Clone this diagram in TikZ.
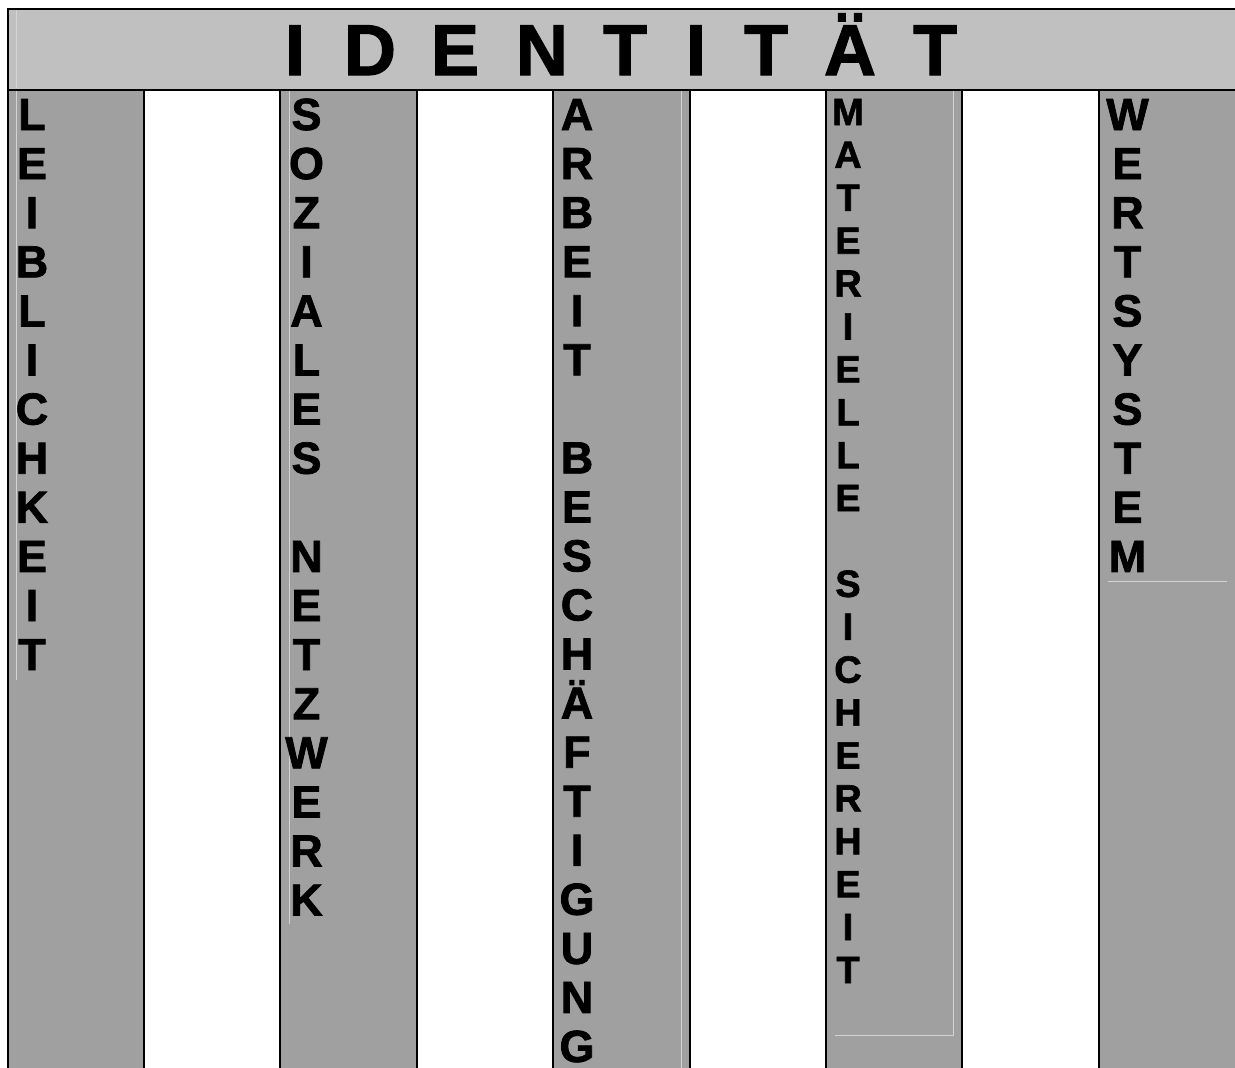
\documentclass[tikz,border=0pt]{standalone}
\usepackage{fontspec}
\setmainfont{Liberation Sans}
\newfontfamily\arialbold{Liberation Sans Bold}[FakeBold=1.6]
\definecolor{headgray}{RGB}{192,192,192}
\definecolor{colgray}{RGB}{160,160,160}
\definecolor{boxline}{RGB}{212,212,212}
\begin{document}
\begin{tikzpicture}[x=1pt,y=-1pt,
  rule/.style={line width=2pt, black},
  frameline/.style={line width=0.8pt, boxline},
  colletter/.style={font=\arialbold\fontsize{45}{49}\selectfont, inner sep=0pt, anchor=base},
  smallletter/.style={font=\arialbold\fontsize{38}{43}\selectfont, inner sep=0pt, anchor=base},
  headletter/.style={font=\arialbold\fontsize{72}{80}\selectfont, inner sep=0pt, anchor=base}]
\useasboundingbox (0,0) rectangle (1235,1068);
\clip (0,0) rectangle (1235,1068);
% header band
\fill[headgray] (8,9) rectangle (1245,90);
% gray columns
\foreach \a/\b in {8/144, 280/417, 553/690, 826/962, 1099/1245}
  \fill[colgray] (\a,90) rectangle (\b,1080);
% thin light text-box borders
\draw[frameline] (16.5,10) -- (16.5,88);
\draw[frameline] (16.5,91) -- (16.5,680);
\draw[frameline] (289,91) -- (289,924);
\draw[frameline] (681,91) -- (681,1070);
\draw[frameline] (953,91) -- (953,1035) -- (835,1035);
\draw[frameline] (1108,581) -- (1227,581);
% black rules
\draw[rule] (8,1080) -- (8,9) -- (1245,9);
\draw[rule] (8,90) -- (1245,90);
\foreach \x in {144,280,417,553,690,826,962,1099}
  \draw[rule] (\x,90) -- (\x,1080);
% header text
\foreach \l/\x [count=\i] in {I/295, D/370, E/455, N/542, T/625, I/696, T/766, Ä/850, T/935}
  \node[headletter] (head\i) at (\x,75) {\l};
% column 1: LEIBLICHKEIT
\foreach \l [count=\i from 0] in {L,E,I,B,L,I,C,H,K,E,I,T}
  \node[colletter] (leib\i) at (32,130+49.1*\i) {\l};
% column 2: SOZIALES NETZWERK
\foreach \l/\i in {S/0,O/1,Z/2,I/3,A/4,L/5,E/6,S/7,N/9,E/10,T/11,Z/12,W/13,E/14,R/15,K/16}
  \node[colletter] (soz\i) at (306.5,130+49.1*\i) {\l};
% column 3: ARBEIT BESCHÄFTIGUNG
\foreach \l/\i in {A/0,R/1,B/2,E/3,I/4,T/5,B/7,E/8,S/9,C/10,H/11,Ä/12,F/13,T/14,I/15,G/16,U/17,N/18,G/19}
  \node[colletter] (arb\i) at (577,130+49.05*\i) {\l};
% column 4: MATERIELLE SICHERHEIT
\foreach \l/\i in {M/0,A/1,T/2,E/3,R/4,I/5,E/6,L/7,L/8,E/9,S/11,I/12,C/13,H/14,E/15,R/16,H/17,E/18,I/19,T/20}
  \node[smallletter] (mat\i) at (848,125+42.9*\i) {\l};
% column 5: WERTSYSTEM
\foreach \l [count=\i from 0] in {W,E,R,T,S,Y,S,T,E,M}
  \node[colletter] (wert\i) at (1127.5,130+49.1*\i) {\l};
\end{tikzpicture}
\end{document}
